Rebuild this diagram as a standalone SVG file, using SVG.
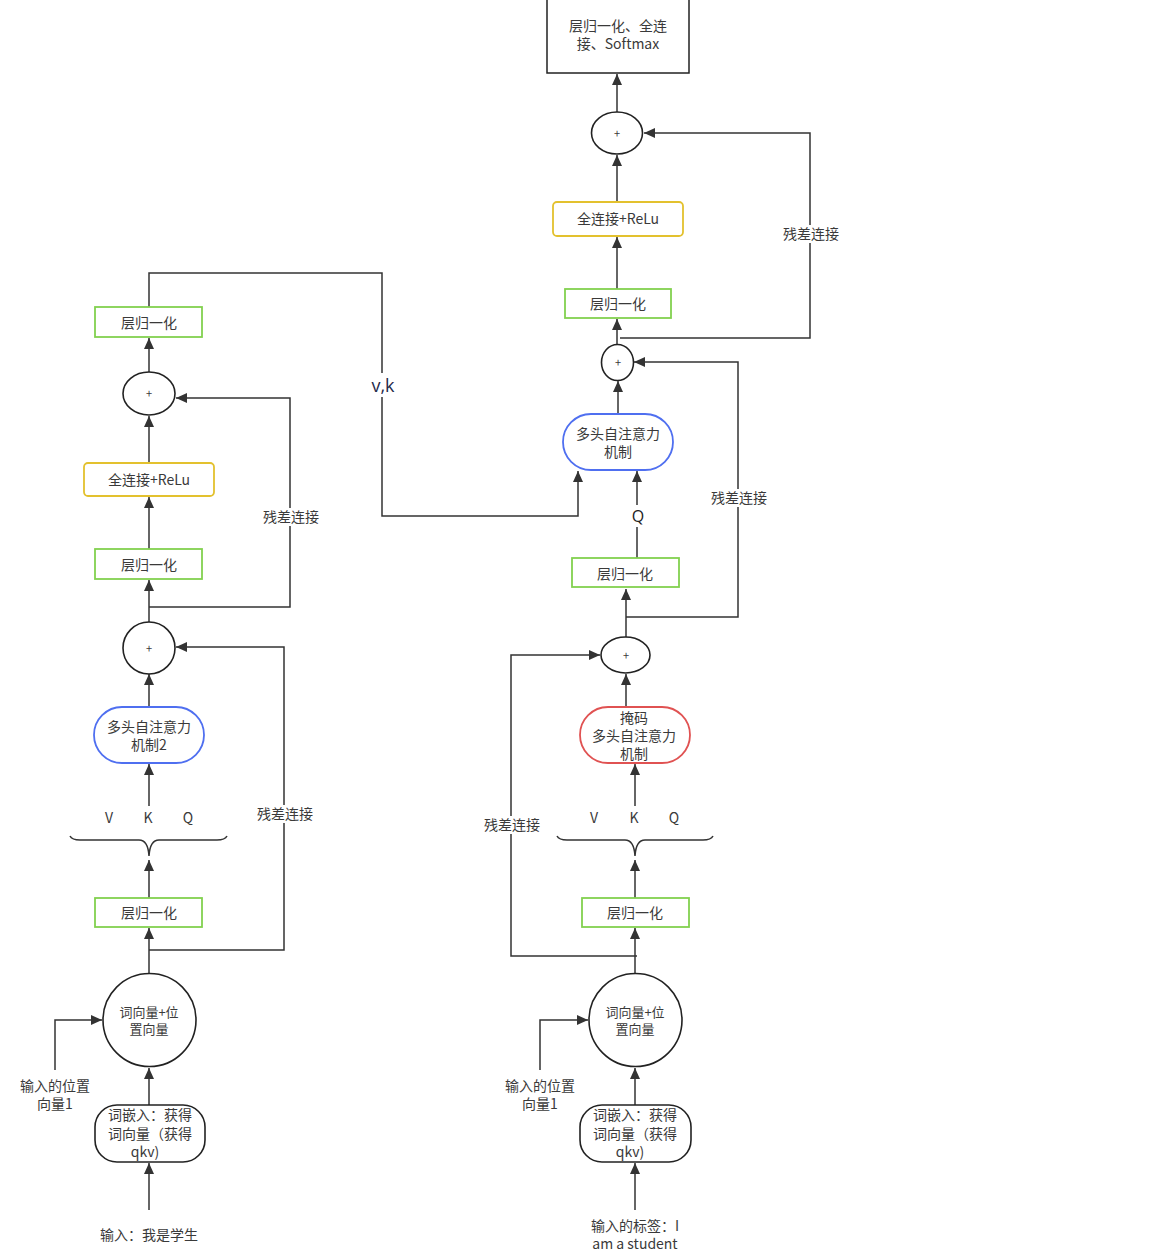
<svg xmlns="http://www.w3.org/2000/svg" width="1165" height="1251" viewBox="0 0 1165 1251">
<defs>
<marker id="arr" markerUnits="userSpaceOnUse" markerWidth="12" markerHeight="10" refX="11" refY="5" orient="auto">
<path d="M0,0 L11,5 L0,10 z" fill="#333"/>
</marker>
<style>
text{font-family:"Noto Sans CJK SC","Liberation Sans",sans-serif;font-size:14px;fill:#3a3a3a;text-anchor:middle;dominant-baseline:central}
.ln{fill:none;stroke:#333;stroke-width:1.5}
.ar{fill:none;stroke:#333;stroke-width:1.5;marker-end:url(#arr)}
.green{fill:#fff;stroke:#82d14f;stroke-width:1.8}
.yellow{fill:#fff;stroke:#e3c12e;stroke-width:1.8}
.blue{fill:#fff;stroke:#4f6ff0;stroke-width:1.8}
.red{fill:#fff;stroke:#e05252;stroke-width:1.8}
.blk{fill:#fff;stroke:#222;stroke-width:1.6}
.lbg{fill:#fff}
.small{font-size:11px}
.c2{font-size:13px}
</style>
</defs>
<rect width="1165" height="1251" fill="#fff"/>

<g id="connectors">
<!-- right column -->
<line class="ar" x1="617" y1="112" x2="617" y2="74"/>
<line class="ar" x1="617" y1="202" x2="617" y2="155"/>
<polyline class="ar" points="620,338 810,338 810,133 644,133"/>
<line class="ar" x1="617" y1="289" x2="617" y2="237"/>
<line class="ar" x1="617" y1="344" x2="617" y2="319"/>
<polyline class="ar" points="626,617 738,617 738,362 634,362"/>
<line class="ar" x1="618" y1="414" x2="618" y2="381"/>
<line class="ar" x1="637" y1="558" x2="637" y2="471"/>
<polyline class="ar" points="149,307 149,273 382,273 382,516 578,516 578,471"/>
<line class="ar" x1="626" y1="637" x2="626" y2="589"/>
<polyline class="ar" points="637,956 511,956 511,655 600,655"/>
<line class="ar" x1="626" y1="707" x2="626" y2="674"/>
<line class="ar" x1="635" y1="806" x2="635" y2="764"/>
<line class="ar" x1="635" y1="898" x2="635" y2="860"/>
<line class="ar" x1="635" y1="973" x2="635" y2="928"/>
<polyline class="ar" points="540,1070 540,1020 588,1020"/>
<line class="ar" x1="635" y1="1105" x2="635" y2="1068"/>
<line class="ar" x1="635" y1="1210" x2="635" y2="1163"/>
<!-- left column -->
<line class="ar" x1="149" y1="372" x2="149" y2="338"/>
<line class="ar" x1="149" y1="463" x2="149" y2="416"/>
<line class="ar" x1="149" y1="549" x2="149" y2="497"/>
<polyline class="ar" points="149,607 290,607 290,398 176,398"/>
<line class="ar" x1="149" y1="622" x2="149" y2="580"/>
<line class="ar" x1="149" y1="707" x2="149" y2="674"/>
<polyline class="ar" points="149,950 284,950 284,647 176,647"/>
<line class="ar" x1="149" y1="806" x2="149" y2="764"/>
<line class="ar" x1="149" y1="898" x2="149" y2="860"/>
<line class="ar" x1="149" y1="973" x2="149" y2="928"/>
<polyline class="ar" points="55,1070 55,1020 102,1020"/>
<line class="ar" x1="149" y1="1105" x2="149" y2="1068"/>
<line class="ar" x1="149" y1="1210" x2="149" y2="1163"/>
<!-- braces -->
<path class="ln" d="M70,836 Q72,840 80,840 L139,840 Q148,840 149,856 Q150,840 159,840 L217,840 Q225,840 227,836"/>
<path class="ln" d="M557,836 Q559,840 567,840 L625,840 Q634,840 635,856 Q636,840 645,840 L703,840 Q711,840 713,836"/>
<!-- connector labels -->
<rect class="lbg" x="778" y="225" width="66" height="18"/>
<text x="811" y="233">残差连接</text>
<rect class="lbg" x="706" y="489" width="66" height="18"/>
<text x="739" y="497">残差连接</text>
<rect class="lbg" x="370" y="373" width="28" height="24"/>
<text x="383" y="385" style="font-size:18px;fill:#1f2a4a;font-family:'Open Sans','Liberation Sans',sans-serif">v,k</text>
<rect class="lbg" x="628" y="505" width="18" height="22"/>
<text x="638" y="516" style="font-size:16px;fill:#222;font-family:'Open Sans','Liberation Sans',sans-serif">Q</text>
<rect class="lbg" x="479" y="816" width="66" height="18"/>
<text x="512" y="824">残差连接</text>
<rect class="lbg" x="258" y="508" width="66" height="18"/>
<text x="291" y="516">残差连接</text>
<rect class="lbg" x="252" y="805" width="66" height="18"/>
<text x="285" y="813">残差连接</text>
</g>

<g id="n-output"><rect class="blk" x="547" y="-2" width="142" height="75" style="stroke-width:1.5"/><text x="618" y="25">层归一化、全连</text><text x="618" y="43">接、Softmax</text></g>
<g id="n-add-r3"><ellipse class="blk" cx="617" cy="133" rx="25.5" ry="21"/><text x="617" y="133" class="small">+</text></g>
<g id="n-ffn-r"><rect class="yellow" x="553" y="202" width="130" height="34" rx="4"/><text x="618" y="218">全连接+ReLu</text></g>
<g id="n-ln-r3"><rect class="green" x="565" y="289" width="106" height="29"/><text x="618" y="303">层归一化</text></g>
<g id="n-add-r2"><ellipse class="blk" cx="617.5" cy="362.5" rx="16" ry="18"/><text x="618" y="362" class="small">+</text></g>
<g id="n-mha-r"><rect class="blue" x="563" y="414" width="110" height="56" rx="28"/><text x="618" y="433">多头自注意力</text><text x="618" y="451">机制</text></g>
<g id="n-ln-r2"><rect class="green" x="572" y="558" width="107" height="29"/><text x="625" y="573">层归一化</text></g>
<g id="n-add-r1"><ellipse class="blk" cx="625.5" cy="655" rx="24.5" ry="18"/><text x="626" y="655" class="small">+</text></g>
<g id="n-mmha"><rect class="red" x="580" y="707" width="110" height="56" rx="28"/><text x="634" y="717">掩码</text><text x="634" y="735">多头自注意力</text><text x="634" y="753">机制</text></g>
<g id="n-vkq-r"><text x="594" y="817">V</text><text x="634" y="817">K</text><text x="674" y="817">Q</text></g>
<g id="n-ln-r1"><rect class="green" x="582" y="898" width="107" height="29"/><text x="635" y="912">层归一化</text></g>
<g id="n-sum-r"><circle class="blk" cx="635.5" cy="1020" r="46.5"/><text class="c2" x="635" y="1011">词向量+位</text><text class="c2" x="635" y="1028">置向量</text></g>
<g id="n-pos-r"><text x="540" y="1085">输入的位置</text><text x="540" y="1103">向量1</text></g>
<g id="n-emb-r"><rect class="blk" x="580" y="1105" width="111" height="57" rx="22"/><text x="635" y="1114">词嵌入：获得</text><text x="635" y="1133">词向量（获得</text><text x="630" y="1151">qkv)</text></g>
<g id="n-in-r"><text x="635" y="1225">输入的标签：I</text><text x="635" y="1243">am a student</text></g>

<g id="n-ln-l3"><rect class="green" x="95" y="307" width="107" height="30"/><text x="149" y="322">层归一化</text></g>
<g id="n-add-l2"><ellipse class="blk" cx="149" cy="393.5" rx="26" ry="21.5"/><text x="149" y="393" class="small">+</text></g>
<g id="n-ffn-l"><rect class="yellow" x="84" y="463" width="130" height="33" rx="4"/><text x="149" y="479">全连接+ReLu</text></g>
<g id="n-ln-l2"><rect class="green" x="95" y="549" width="107" height="30"/><text x="149" y="564">层归一化</text></g>
<g id="n-add-l1"><circle class="blk" cx="149" cy="648" r="26"/><text x="149" y="648" class="small">+</text></g>
<g id="n-mha-l"><rect class="blue" x="94" y="707" width="110" height="56" rx="28"/><text x="149" y="726">多头自注意力</text><text x="149" y="744">机制2</text></g>
<g id="n-vkq-l"><text x="109" y="817">V</text><text x="148" y="817">K</text><text x="188" y="817">Q</text></g>
<g id="n-ln-l1"><rect class="green" x="95" y="898" width="107" height="29"/><text x="149" y="912">层归一化</text></g>
<g id="n-sum-l"><circle class="blk" cx="149.5" cy="1020" r="46.5"/><text class="c2" x="149" y="1011">词向量+位</text><text class="c2" x="149" y="1028">置向量</text></g>
<g id="n-pos-l"><text x="55" y="1085">输入的位置</text><text x="55" y="1103">向量1</text></g>
<g id="n-emb-l"><rect class="blk" x="95" y="1105" width="110" height="57" rx="22"/><text x="150" y="1114">词嵌入：获得</text><text x="150" y="1133">词向量（获得</text><text x="145" y="1151">qkv)</text></g>
<g id="n-in-l"><text x="149" y="1234">输入：我是学生</text></g>
</svg>
